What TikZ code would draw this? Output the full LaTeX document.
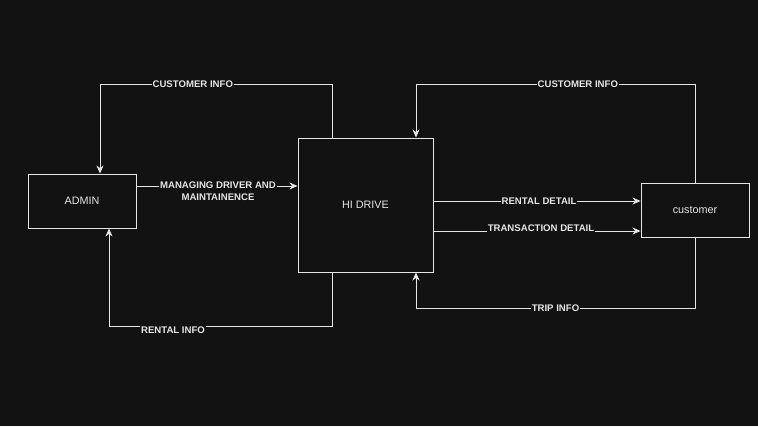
\documentclass[tikz,border=0pt]{standalone}
\usepackage{fontspec}
\setmainfont{Liberation Sans}
\usetikzlibrary{arrows.meta}
\definecolor{bg}{HTML}{121212}
\definecolor{ln}{HTML}{E6E6E6}
\begin{document}
\begin{tikzpicture}[x=1pt,y=-1pt,
  box/.style={draw=ln,line width=0.9pt,fill=bg,text=ln,font=\fontsize{10.8}{12}\selectfont,inner sep=0pt},
  flow/.style={draw=ln,line width=0.9pt,-{Stealth[length=8pt,width=7pt,inset=2.5pt]}},
  lbl/.style={fill=bg,text=ln,font=\bfseries\fontsize{9.6}{12}\selectfont,inner sep=1pt,align=center}]
\fill[bg] (0,0) rectangle (758,426);
\useasboundingbox (0,0) rectangle (758,426);
\node[box,minimum width=108pt,minimum height=54pt] (admin) at (82,201) {ADMIN};
\node[box,minimum width=135pt,minimum height=134pt] (hi) at (365.5,205) {HI DRIVE};
\node[box,minimum width=108pt,minimum height=54pt] (cust) at (695,210) {customer};
\coordinate (a1) at (332,84);
\coordinate (a2) at (100,84);
\coordinate (b1) at (332,326);
\coordinate (b2) at (109,326);
\coordinate (c1) at (695,84);
\coordinate (c2) at (416,84);
\coordinate (d1) at (695,308);
\coordinate (d2) at (416,308);
% customer info left
\draw[flow] (hi.north -| a1) -- (a1) -- node[lbl,pos=0.6] {CUSTOMER INFO} (a2) -- (admin.north -| a2);
% managing
\draw[flow] (admin.east |- 0,186) -- (hi.west |- 0,186);
\node[lbl] (mg) at (218,191) {MANAGING DRIVER AND\\MAINTAINENCE};
% rental info
\draw[flow] (hi.south -| b1) -- (b1) -- (b2) -- (admin.south -| b2);
\node[lbl] (ri) at (173,330) {RENTAL INFO};
% customer info right
\draw[flow] (cust.north -| c1) -- (c1) -- node[lbl,pos=0.42] {CUSTOMER INFO} (c2) -- (hi.north -| c2);
% rental detail
\draw[flow] (hi.east |- 0,201) -- node[lbl,pos=0.51] {RENTAL DETAIL} (cust.west |- 0,201);
% transaction detail
\draw[flow] (hi.east |- 0,231) -- (cust.west |- 0,231);
\node[lbl] (td) at (541,228) {TRANSACTION DETAIL};
% trip info
\draw[flow] (cust.south -| d1) -- (d1) -- node[lbl,pos=0.5] {TRIP INFO} (d2) -- (hi.south -| d2);
\end{tikzpicture}
\end{document}
